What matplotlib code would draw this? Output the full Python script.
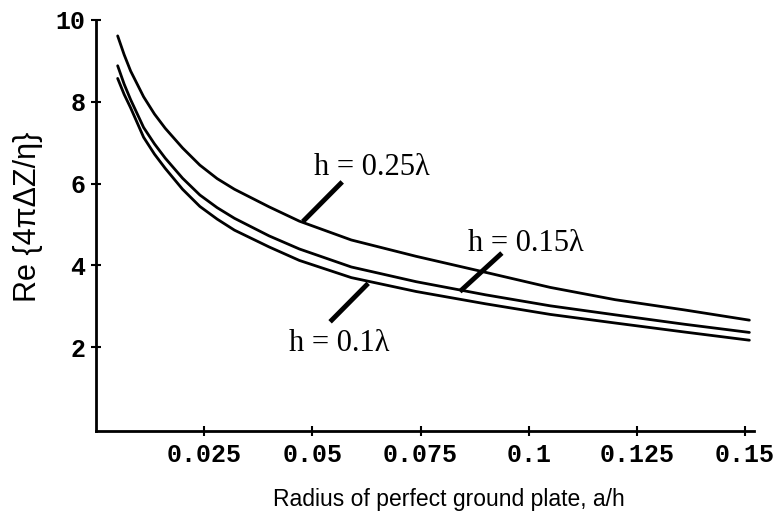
"""Re{4*pi*dZ/eta} against ground plate radius for three antenna heights."""

import matplotlib.pyplot as plt

# Radius of the ground plate, a/h
radius = [0.005, 0.0065, 0.008, 0.011, 0.0135, 0.016, 0.020, 0.024, 0.028,
          0.032, 0.040, 0.047, 0.059, 0.074, 0.090, 0.105, 0.120, 0.136, 0.151]

# Re{4 pi dZ / eta} for each height
re_h025 = [9.61, 9.15, 8.75, 8.12, 7.70, 7.35, 6.87, 6.45, 6.12,
           5.86, 5.43, 5.08, 4.62, 4.22, 3.83, 3.46, 3.16, 2.91, 2.66]
re_h015 = [8.88, 8.43, 8.05, 7.37, 6.97, 6.62, 6.13, 5.72, 5.41,
           5.15, 4.72, 4.40, 3.96, 3.60, 3.28, 3.01, 2.79, 2.56, 2.36]
re_h010 = [8.57, 8.18, 7.85, 7.13, 6.72, 6.37, 5.86, 5.44, 5.13,
           4.86, 4.45, 4.12, 3.70, 3.36, 3.06, 2.80, 2.59, 2.37, 2.17]

x_ticks = [0.025, 0.05, 0.075, 0.1, 0.125, 0.15]
x_tick_labels = ["0.025", "0.05", "0.075", "0.1", "0.125", "0.15"]
y_ticks = [2, 4, 6, 8, 10]

# label text, text anchor (x, baseline y), leader line ends
labels = ["h = 0.25λ", "h = 0.15λ", "h = 0.1λ"]
label_pos = [(0.0638, 6.21), (0.0994, 4.35), (0.0562, 1.91)]
leader_top = [(0.0569, 6.04), (0.0938, 4.30), (0.0629, 3.56)]
leader_end = [(0.0478, 5.07), (0.0841, 3.36), (0.0541, 2.62)]

fig = plt.figure(figsize=(7.82, 5.23), dpi=100)
ax = fig.add_axes([0.1228, 0.1759, 0.841, 0.786])

for values in (re_h025, re_h015, re_h010):
    ax.plot(radius, values, color="black", linewidth=2.0, solid_capstyle="round")

for text, (tx, ty), (x0, y0), (x1, y1) in zip(labels, label_pos, leader_top, leader_end):
    ax.plot([x0, x1], [y0, y1], color="black", linewidth=3.5, solid_capstyle="butt")
    ax.text(tx, ty, text, ha="center", va="baseline", fontsize=22,
            family="Liberation Serif")

ax.set_xlim(0, 0.152)
ax.set_ylim(-0.05, 10)
ax.set_xticks(x_ticks)
ax.set_xticklabels(x_tick_labels)
ax.set_yticks(y_ticks)

for side in ("top", "right"):
    ax.spines[side].set_visible(False)
for side in ("left", "bottom"):
    ax.spines[side].set_linewidth(2.0)

ax.tick_params(direction="inout", length=7, width=1.5, colors="black")
ax.tick_params(axis="x", pad=5)
ax.tick_params(axis="y", pad=4)
for lbl in ax.get_xticklabels() + ax.get_yticklabels():
    lbl.set_family("Liberation Mono")
    lbl.set_fontweight("bold")
    lbl.set_fontsize(18)

fig.text(0.574, 0.044, "Radius of perfect ground plate, a/h", ha="center",
         va="center", fontsize=16.5, family="Liberation Sans")
fig.text(0.036, 0.585, "Re {4πΔZ/η}", ha="center", va="center", rotation=90,
         fontsize=22, family="Liberation Sans")

fig.savefig("out.png", dpi=100)
